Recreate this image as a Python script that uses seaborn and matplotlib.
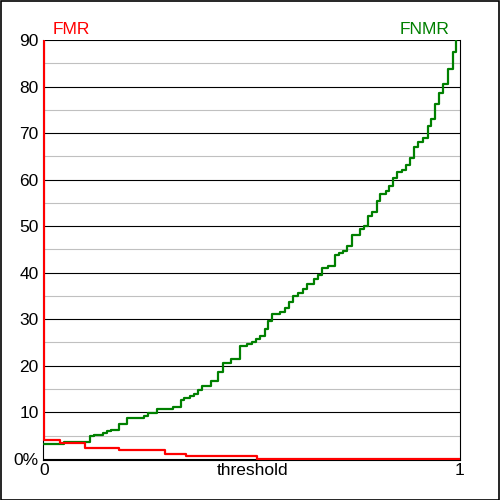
import numpy as np
import pandas as pd
import seaborn as sns
import matplotlib.pyplot as plt
from matplotlib.patches import Rectangle


# FNMR step curve (threshold, percent)
fnmr_thr = [0.000, 0.048, 0.110, 0.119, 0.141, 0.151, 0.161, 0.179, 0.199, 0.239,
            0.249, 0.271, 0.310, 0.330, 0.336, 0.351, 0.360, 0.369, 0.379, 0.400,
            0.419, 0.429, 0.450, 0.471, 0.488, 0.499, 0.510, 0.520, 0.530, 0.539,
            0.548, 0.568, 0.579, 0.588, 0.599, 0.610, 0.622, 0.631, 0.648, 0.659,
            0.668, 0.682, 0.700, 0.710, 0.719, 0.729, 0.740, 0.760, 0.770, 0.779,
            0.788, 0.800, 0.808, 0.823, 0.830, 0.839, 0.848, 0.860, 0.870, 0.880,
            0.890, 0.900, 0.910, 0.922, 0.930, 0.940, 0.950, 0.960, 0.970, 0.982,
            0.990, 1.000]
fnmr_val = [3.2, 3.7, 4.8, 5.2, 5.6, 5.9, 6.3, 7.5, 8.8, 9.3,
            9.9, 10.8, 11.2, 12.6, 13.1, 13.6, 13.9, 14.8, 15.7, 16.8,
            18.7, 20.6, 21.4, 24.2, 24.6, 25.1, 25.7, 26.3, 27.9, 29.7,
            31.1, 31.6, 32.5, 33.7, 34.9, 35.7, 36.6, 37.6, 38.6, 39.4,
            40.9, 41.4, 43.7, 44.2, 44.7, 45.7, 48.1, 49.4, 50.1, 52.1,
            53.1, 55.4, 57.0, 57.5, 58.6, 60.4, 61.6, 62.0, 63.2, 64.7,
            67.0, 68.0, 68.9, 71.6, 73.1, 76.3, 78.6, 80.6, 83.8, 87.5,
            90.5, 100.0]

# FMR step curve (threshold, percent)
fmr_thr = [0.000, 0.000, 0.038, 0.099, 0.179, 0.290, 0.341, 0.511, 1.000]
fmr_val = [100.0, 4.07, 3.4, 2.3, 1.8, 1.1, 0.7, 0.0, 0.0]

y_ticks = [0, 10, 20, 30, 40, 50, 60, 70, 80, 90]
y_labels = ["0%", "10", "20", "30", "40", "50", "60", "70", "80", "90"]
x_ticks = [0, 0.5, 1]
x_labels = ["0", "threshold", "1"]


def make_plot(fn):
    sns.set_style("white")
    plt.rcParams["font.family"] = ["Liberation Sans", "DejaVu Sans"]

    fig = plt.figure(figsize=(5, 5), dpi=100)
    ax = fig.add_axes([0.086, 0.08, 0.834, 0.84])

    fnmr_df = pd.DataFrame({"threshold": fnmr_thr, "rate": fnmr_val})
    fmr_df = pd.DataFrame({"threshold": fmr_thr, "rate": fmr_val})

    sns.lineplot(data=fnmr_df, x="threshold", y="rate", ax=ax, color="#008000",
                 drawstyle="steps-post", estimator=None, sort=False, linewidth=1.6, zorder=3)
    sns.lineplot(data=fmr_df, x="threshold", y="rate", ax=ax, color="#ff0000",
                 drawstyle="steps-post", estimator=None, sort=False, linewidth=1.6, zorder=4)

    ax.set_xlim(-0.003, 1.0)
    ax.set_ylim(-0.25, 90)

    # grid: black every 10, grey every 5
    ax.set_yticks(y_ticks)
    ax.set_yticklabels(y_labels)
    ax.set_yticks([5, 15, 25, 35, 45, 55, 65, 75, 85], minor=True)
    ax.grid(which="major", axis="y", color="black", linewidth=0.8, zorder=1)
    ax.grid(which="minor", axis="y", color="#c0c0c0", linewidth=0.8, zorder=1)
    ax.grid(which="major", axis="x", visible=False)
    ax.set_axisbelow(True)

    ax.set_xticks(x_ticks)
    ax.set_xticklabels(x_labels)
    ax.tick_params(axis="both", which="both", length=0, labelsize=12.5, colors="black")
    ax.tick_params(axis="y", pad=3)
    ax.tick_params(axis="x", pad=2)
    ax.set_xlabel("")
    ax.set_ylabel("")

    ax.spines["top"].set_visible(False)
    for side in ["left", "right", "bottom"]:
        ax.spines[side].set_color("black")
        ax.spines[side].set_linewidth(0.8)

    ax.text(0.022, 1.014, "FMR", transform=ax.transAxes, color="#ff0000",
            fontsize=12.5, ha="left", va="baseline")
    ax.text(0.976, 1.014, "FNMR", transform=ax.transAxes, color="#008000",
            fontsize=12.5, ha="right", va="baseline")

    # outer frame
    fig.patches.append(Rectangle((0.001, 0.001), 0.997, 0.997, transform=fig.transFigure,
                                 fill=False, edgecolor="black", linewidth=1.2))

    plt.savefig(fn)
    plt.close()


if __name__ == "__main__":
    make_plot("out.png")
